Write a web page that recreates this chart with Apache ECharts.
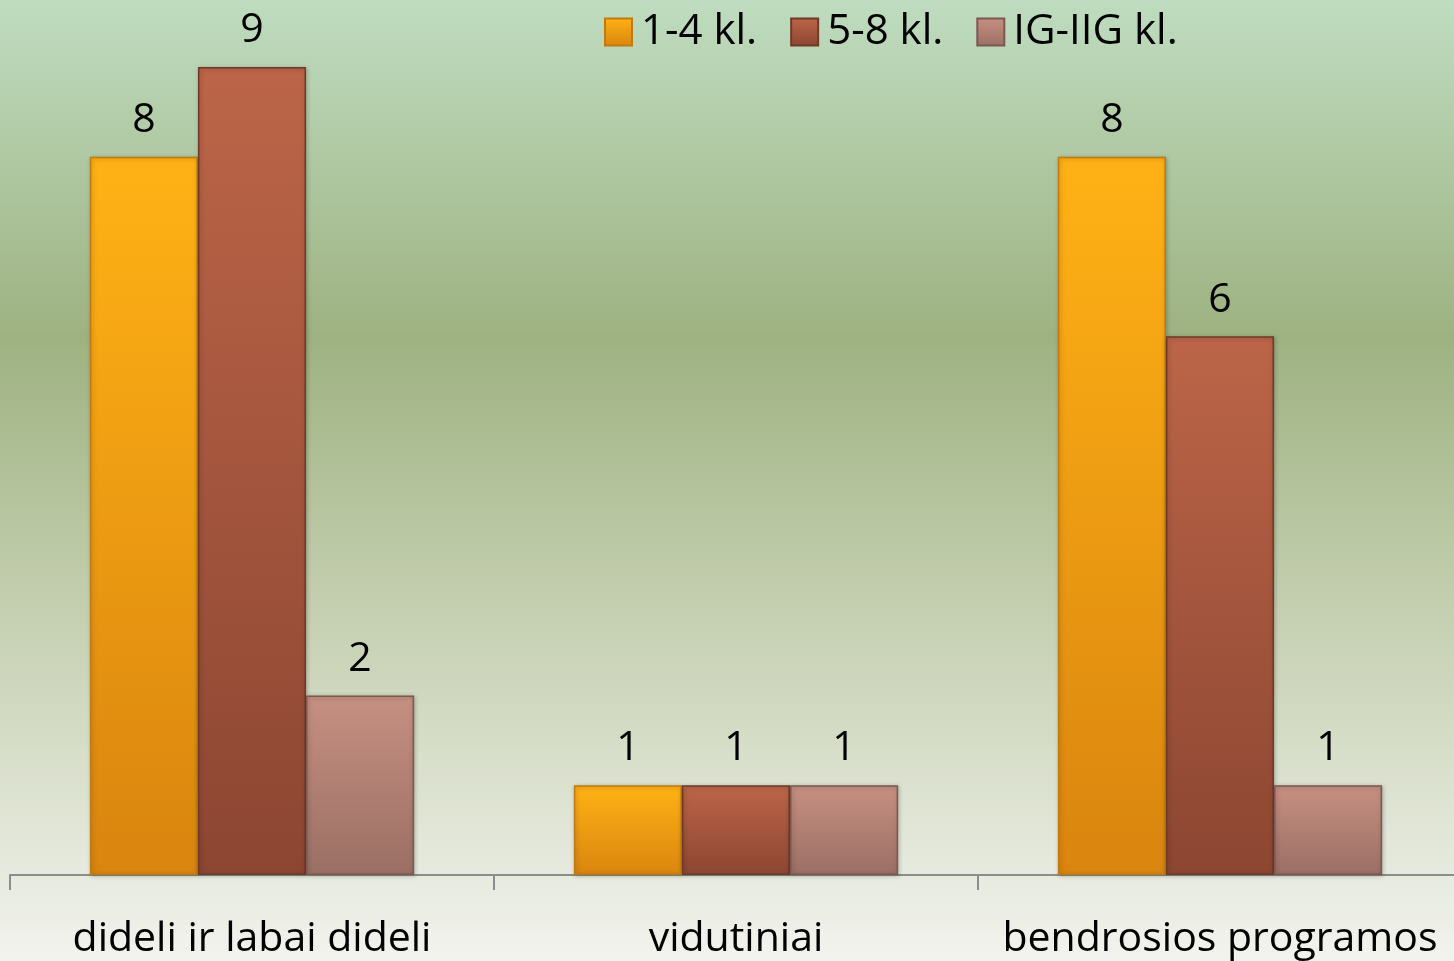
<!DOCTYPE html>
<html><head><meta charset="utf-8">
<script src="https://cdn.jsdelivr.net/npm/echarts@6/dist/echarts.min.js"></script>
<style>html,body{margin:0;padding:0;}#c{width:1454px;height:961px;}</style>
</head><body><div id="c"></div>
<script>
const categories = ['dideli ir labai dideli', 'vidutiniai', 'bendrosios programos'];
const seriesNames = ['1-4 kl.', '5-8 kl.', 'IG-IIG kl.'];
const values14 = [8, 1, 8];
const values58 = [9, 1, 6];
const valuesIG = [2, 1, 1];

const FONT = '"Open Sans", Lato, sans-serif';
function grad(top, bottom) {
  return new echarts.graphic.LinearGradient(0, 0, 0, 1, [
    {offset: 0, color: top}, {offset: 1, color: bottom}]);
}
const styles = [
  {color: grad('#ffb215', '#d9850f'), borderColor: '#c07a10'},
  {color: grad('#bc6548', '#8c4632'), borderColor: '#6e3a28'},
  {color: grad('#c69082', '#9b6f64'), borderColor: '#7a5850'}
];
const data = [values14, values58, valuesIG];
const chart = echarts.init(document.getElementById('c'));
chart.setOption({
  backgroundColor: new echarts.graphic.LinearGradient(0, 0, 0, 1, [
    {offset: 0, color: '#bfdcc0'},
    {offset: 0.35, color: '#9eb281'},
    {offset: 0.7, color: '#cdd6bb'},
    {offset: 1, color: '#f2f3ee'}
  ]),
  legend: {
    top: 6, left: 599, itemWidth: 27, itemHeight: 27, itemGap: 33, icon: 'rect',
    textStyle: {fontFamily: FONT, fontSize: 42, color: '#000', padding: [0, 0, 0, 4]},
    data: seriesNames
  },
  grid: {left: 10, width: 1452, top: 67, bottom: 86, outerBoundsMode: 'none', containLabel: false},
  xAxis: {
    type: 'category', data: categories,
    axisLine: {lineStyle: {color: '#8c8c8c', width: 2}},
    axisTick: {show: true, length: 15, lineStyle: {color: '#8c8c8c', width: 2}},
    axisLabel: {interval: 0, fontFamily: FONT, fontSize: 41, color: '#000', margin: 44}
  },
  yAxis: {type: 'value', min: 0, max: 9, show: false, splitLine: {show: false}},
  series: seriesNames.map((n, i) => ({
    name: n, type: 'bar', data: data[i],
    barGap: '0%', barCategoryGap: '33%',
    itemStyle: Object.assign({borderWidth: 1.5, shadowColor: 'rgba(0,0,0,0.25)', shadowBlur: 4, shadowOffsetX: 1, shadowOffsetY: 1}, styles[i]),
    label: {show: true, position: 'top', distance: 16, fontFamily: FONT, fontSize: 41, color: '#000'}
  }))
});
</script></body></html>
